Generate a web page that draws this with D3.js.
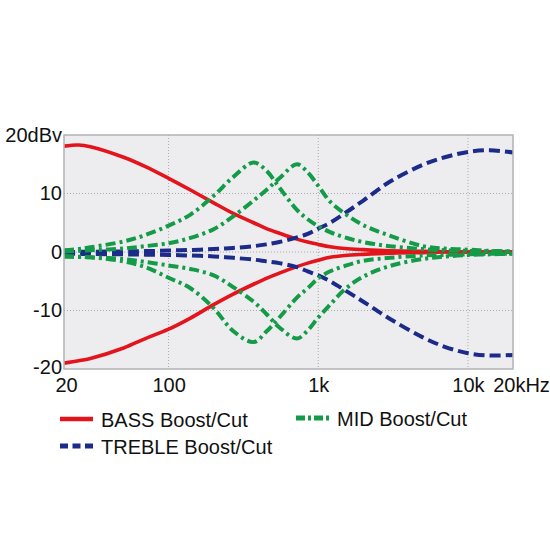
<!DOCTYPE html>
<html>
<head>
<meta charset="utf-8">
<script src="https://cdn.jsdelivr.net/npm/d3@7"></script>
<style>
  html, body { margin: 0; padding: 0; background: #fff; }
  svg text { font-family: "Liberation Sans", Arial, Helvetica, sans-serif; fill: #111; }
</style>
</head>
<body>
<svg id="chart" width="550" height="550"></svg>
<script>
// frequency grid (Hz) shared by every curve
const freqs = [20, 25, 30, 50, 70, 100, 140, 200, 270, 370, 450, 550, 720, 850, 1000, 1200, 1500, 2000, 3000, 5000, 7000, 10000, 14000, 20000];

// response in dBv
const bassBoost    = [18.1, 18.3, 18.0, 16.2, 14.6, 12.6, 10.6, 8.4, 6.6, 5.0, 4.0, 3.2, 2.2, 1.7, 1.3, 0.9, 0.6, 0.4, 0.2, 0.1, 0.05, 0, 0, 0];
const bassCut      = [-19.0, -18.6, -18.2, -16.4, -14.8, -13.2, -11.3, -9.0, -7.2, -5.5, -4.5, -3.6, -2.5, -1.9, -1.4, -0.9, -0.6, -0.4, -0.2, -0.1, 0, 0, 0, 0];
const trebleBoost  = [0, 0.02, 0.05, 0.1, 0.15, 0.25, 0.35, 0.5, 0.7, 1.0, 1.3, 1.7, 2.5, 3.1, 4.0, 5.0, 6.6, 8.8, 12.0, 14.9, 16.2, 17.1, 17.4, 17.0];
const trebleCut    = [-0.3, -0.32, -0.35, -0.4, -0.45, -0.5, -0.6, -0.75, -1.0, -1.3, -1.6, -1.9, -2.6, -3.3, -4.0, -5.0, -6.5, -8.5, -11.4, -14.6, -16.2, -17.3, -17.7, -17.6];
const midLowBoost  = [0.3, 0.5, 0.8, 1.8, 2.9, 4.5, 6.4, 9.6, 12.8, 15.3, 13.9, 11.0, 7.2, 5.6, 4.4, 3.4, 2.5, 1.7, 1.0, 0.5, 0.3, 0.2, 0.1, 0.1];
const midLowCut    = [-0.7, -0.8, -0.9, -1.6, -2.6, -4.4, -6.2, -9.6, -13.5, -15.4, -13.6, -11.2, -7.8, -6.2, -4.5, -3.3, -2.4, -1.5, -1.0, -0.6, -0.5, -0.4, -0.3, -0.3];
const midHighBoost = [0.1, 0.2, 0.3, 0.6, 1.0, 1.5, 2.4, 3.9, 6.1, 8.8, 10.6, 12.6, 15.0, 13.6, 11.3, 8.6, 6.6, 4.6, 2.8, 1.0, 0.6, 0.4, 0.2, 0.1];
const midHighCut   = [-0.8, -0.85, -0.9, -1.2, -1.7, -2.3, -2.9, -4.0, -6.0, -8.5, -10.6, -12.9, -14.8, -13.4, -11.2, -9.0, -6.4, -4.2, -2.4, -1.2, -0.8, -0.5, -0.4, -0.3];

// axes
const xTicks = [20, 100, 1000, 10000, 20000];
const xTickLabels = ["20", "100", "1k", "10k", "20kHz"];
const xGrid = [100, 1000, 10000];
const yTicks = [-20, -10, 0, 10, 20];
const yTickLabels = ["-20", "-10", "0", "10", "20dBv"];
const yGrid = [-10, 0, 10];

// legend
const legendLabels = ["BASS Boost/Cut", "MID Boost/Cut", "TREBLE Boost/Cut"];

const svg = d3.select("#chart");
const plotLeft = 64, plotRight = 513, plotTop = 135, plotBottom = 369;

const x = d3.scaleLog().domain([20, 20000]).range([plotLeft, plotRight]);
const y = d3.scaleLinear().domain([-20, 20]).range([plotBottom, plotTop]);

const red = "#e3141c", navy = "#1c2a8a", green = "#139b48";
const styles = {
  bass:   { color: red,   width: 3.6, dash: null,       legendDash: null },
  treble: { color: navy,  width: 4,   dash: "11,5",     legendDash: "8,4.5" },
  mid:    { color: green, width: 4,   dash: "10,4,3,4", legendDash: "9,3,3,3" }
};

// plot background
svg.append("rect")
  .attr("x", plotLeft).attr("y", plotTop)
  .attr("width", plotRight - plotLeft).attr("height", plotBottom - plotTop)
  .attr("fill", "#ededf0");

// dotted grid
const grid = svg.append("g").attr("stroke", "#a9a9ad").attr("stroke-width", 1).attr("stroke-dasharray", "1,2");
grid.selectAll("line.v").data(xGrid).join("line")
  .attr("class", "v")
  .attr("x1", d => x(d)).attr("x2", d => x(d))
  .attr("y1", plotTop).attr("y2", plotBottom);
grid.selectAll("line.h").data(yGrid).join("line")
  .attr("class", "h")
  .attr("x1", plotLeft).attr("x2", plotRight)
  .attr("y1", d => y(d)).attr("y2", d => y(d));

// curves
const line = d3.line()
  .x((d, i) => x(freqs[i]))
  .y(d => y(d))
  .curve(d3.curveCatmullRom.alpha(0.5));

const curves = [
  [bassBoost, "bass"], [bassCut, "bass"],
  [trebleBoost, "treble"], [trebleCut, "treble"],
  [midLowBoost, "mid"], [midLowCut, "mid"],
  [midHighBoost, "mid"], [midHighCut, "mid"]
];

svg.append("clipPath").attr("id", "plotclip")
  .append("rect").attr("x", plotLeft).attr("y", plotTop - 2)
  .attr("width", plotRight - plotLeft).attr("height", plotBottom - plotTop + 4);

svg.append("g").attr("clip-path", "url(#plotclip)")
  .selectAll("path").data(curves).join("path")
  .attr("d", d => line(d[0]))
  .attr("fill", "none")
  .attr("stroke", d => styles[d[1]].color)
  .attr("stroke-width", d => styles[d[1]].width)
  .attr("stroke-dasharray", d => styles[d[1]].dash);

// frame
svg.append("rect")
  .attr("x", plotLeft).attr("y", plotTop)
  .attr("width", plotRight - plotLeft).attr("height", plotBottom - plotTop)
  .attr("fill", "none")
  .attr("stroke", "#b2b2b6")
  .attr("stroke-width", 1.5);

// axes (labels only)
const xAxis = d3.axisBottom(x)
  .tickValues(xTicks)
  .tickFormat((d, i) => xTickLabels[i])
  .tickSize(0)
  .tickPadding(9);
const gx = svg.append("g").attr("transform", `translate(0,${plotBottom})`).call(xAxis);
gx.select(".domain").remove();
gx.attr("font-family", null).attr("font-size", 20);
gx.selectAll(".tick").filter(d => d === 20000).select("text").attr("dx", 8);
gx.selectAll(".tick").filter(d => d === 20).select("text").attr("dx", 2);

const yAxis = d3.axisLeft(y)
  .tickValues(yTicks)
  .tickFormat((d, i) => yTickLabels[i])
  .tickSize(0)
  .tickPadding(2);
const gy = svg.append("g").attr("transform", `translate(${plotLeft},0)`).call(yAxis);
gy.select(".domain").remove();
gy.attr("font-family", null).attr("font-size", 20);
gy.selectAll(".tick").filter(d => d === -20).select("text").attr("dy", "0.2em");

// legend
const legendItems = [
  { label: legendLabels[0], style: styles.bass,   lx: 60,  ly: 419 },
  { label: legendLabels[1], style: styles.mid,    lx: 296, ly: 418 },
  { label: legendLabels[2], style: styles.treble, lx: 60,  ly: 446 }
];
const item = svg.append("g").selectAll("g").data(legendItems).join("g")
  .attr("transform", d => `translate(${d.lx},${d.ly})`);
item.append("line")
  .attr("x1", 0).attr("x2", 33).attr("y1", 0).attr("y2", 0)
  .attr("stroke", d => d.style.color)
  .attr("stroke-width", d => d.style.width + 0.8)
  .attr("stroke-dasharray", d => d.style.legendDash);
item.append("text")
  .attr("x", 41).attr("y", 8)
  .attr("font-size", 20)
  .text(d => d.label);
</script>
</body>
</html>
